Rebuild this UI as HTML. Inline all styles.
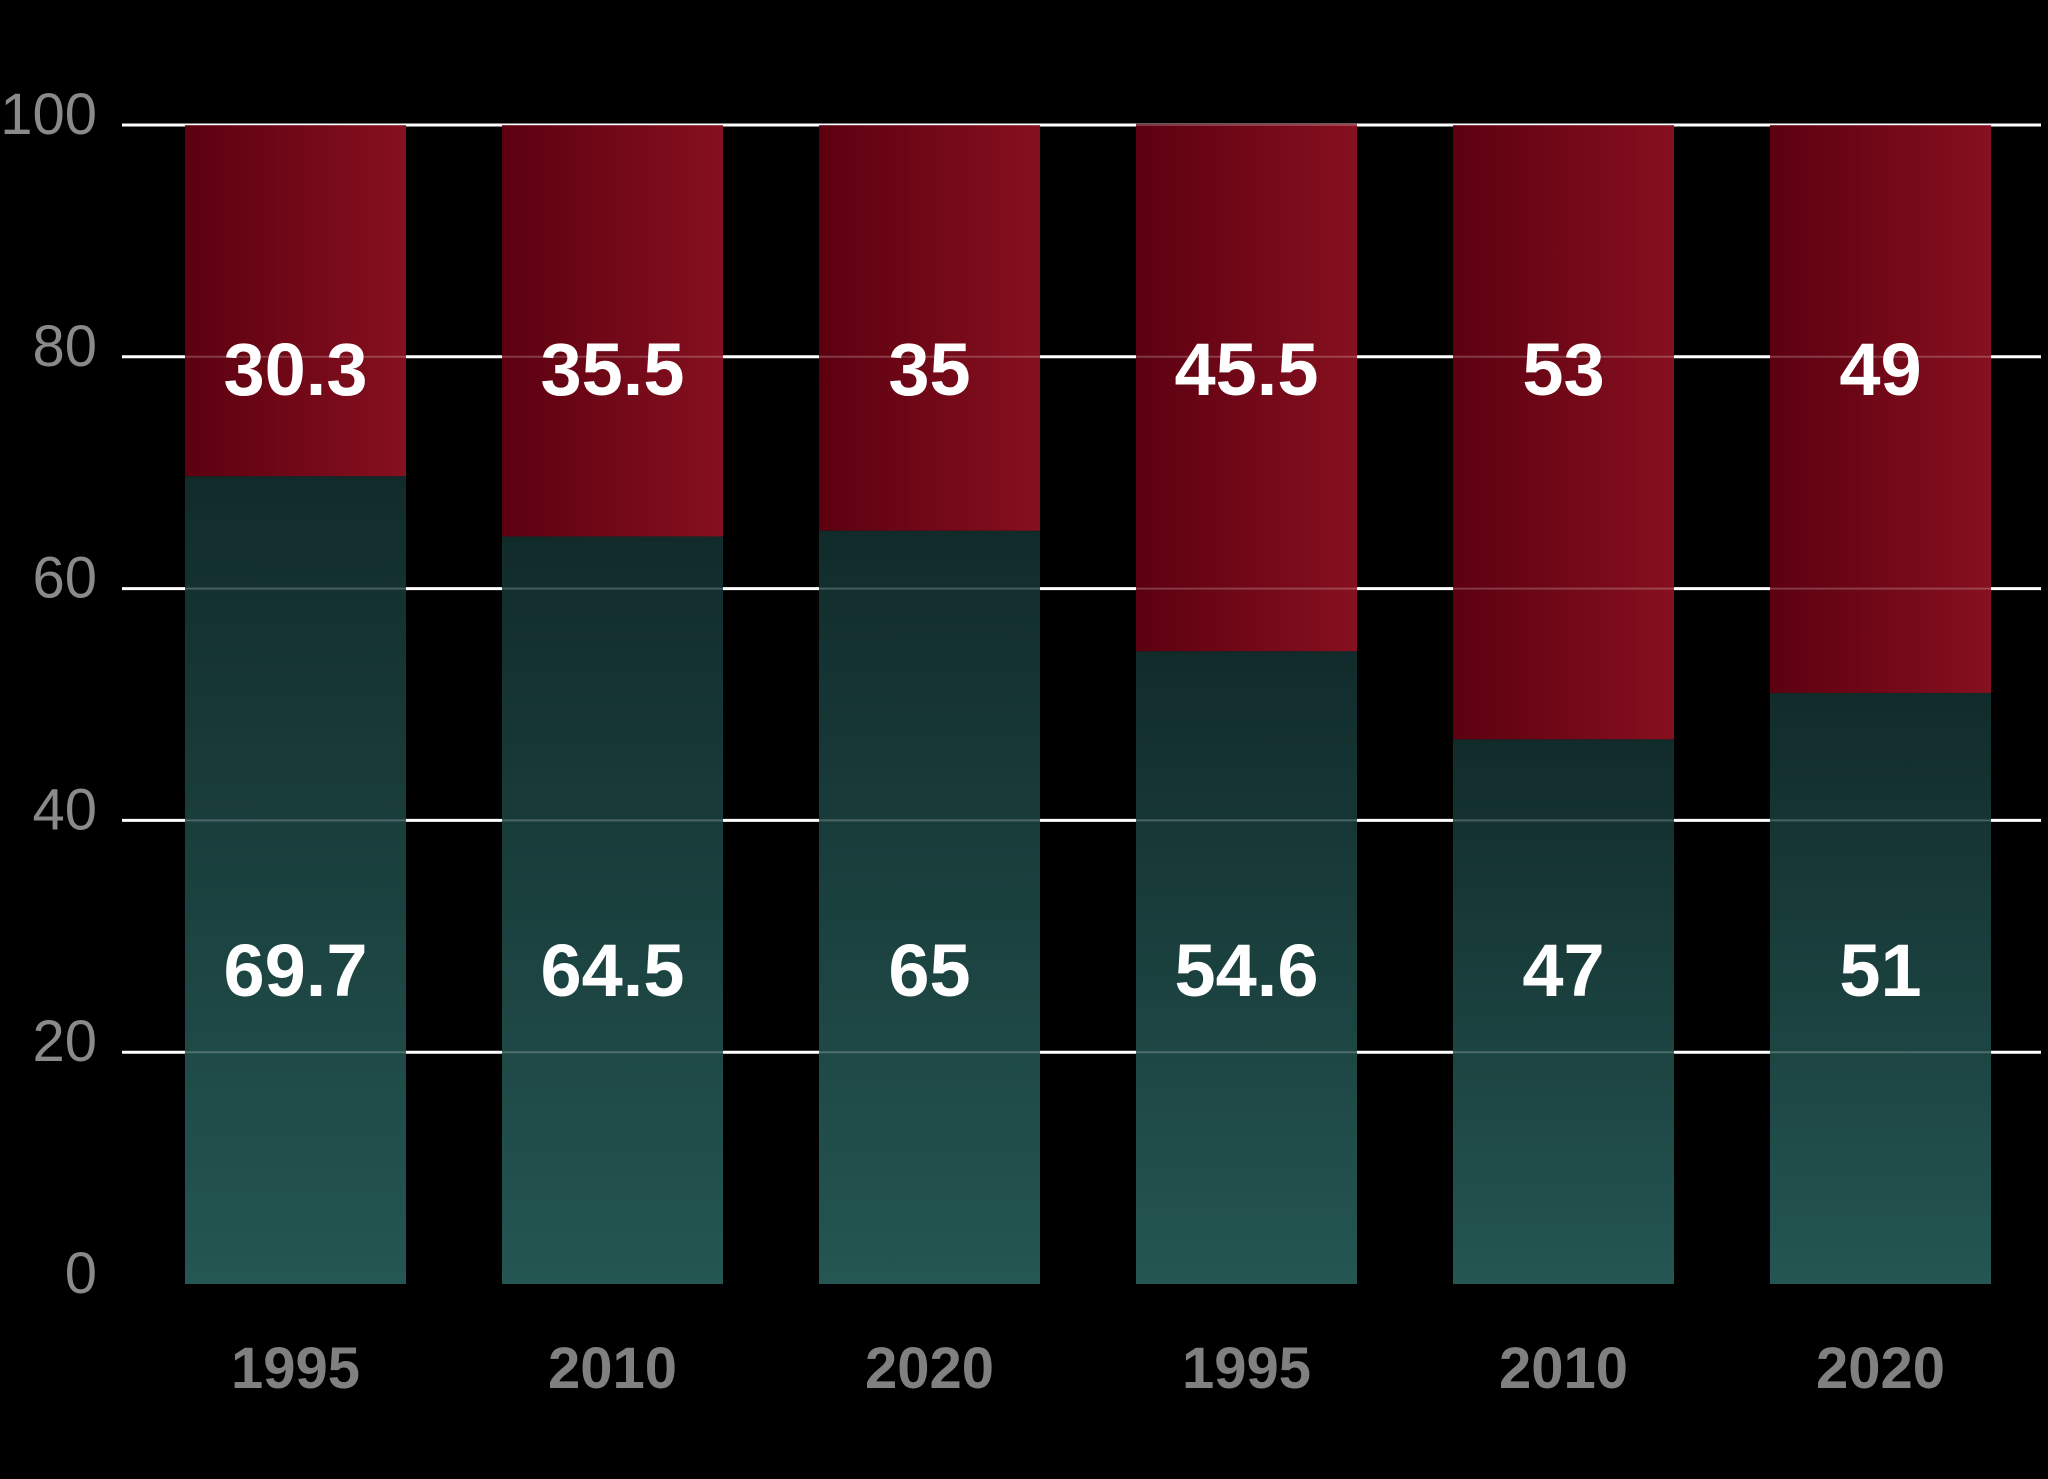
<!DOCTYPE html>
<html><head><meta charset="utf-8"><style>
html,body{margin:0;padding:0;background:#000;}
svg{display:block;font-family:"Liberation Sans","DejaVu Sans",sans-serif;}
</style></head><body>
<svg id="chart" width="2048" height="1479" viewBox="0 0 2048 1479" xmlns="http://www.w3.org/2000/svg">
<defs>
<linearGradient id="redGrad" x1="0" y1="0" x2="1" y2="0"><stop offset="0" stop-color="#5c0010"/><stop offset="1" stop-color="#86101f"/></linearGradient>
<linearGradient id="greenGrad" x1="0" y1="0" x2="0" y2="1"><stop offset="0" stop-color="#112b2b"/><stop offset="1" stop-color="#245652"/></linearGradient>
</defs>
<g id="grid"></g>
<g id="bars"></g>
<g id="overgrid"></g>
<g id="labels"></g>
<g id="yaxis"></g>
<g id="xaxis"></g>
</svg>
<script>
const categories = ["1995","2010","2020","1995","2010","2020"];
const greenValues = [69.7,64.5,65,54.6,47,51];
const redValues = [30.3,35.5,35,45.5,53,49];
const greenLabels = ["69.7","64.5","65","54.6","47","51"];
const redLabels = ["30.3","35.5","35","45.5","53","49"];
const yTicks = [0,20,40,60,80,100];

const NS="http://www.w3.org/2000/svg";
const y0=1284, y100=125;
function y(v){return y0-(y0-y100)*v/100;}
function xc(i){return 295.5+i*317;}
const bw=221;
function mk(tag,attrs,parent){const e=document.createElementNS(NS,tag);for(const k in attrs)e.setAttribute(k,attrs[k]);parent.appendChild(e);return e;}
const grid=document.getElementById('grid'),bars=document.getElementById('bars'),og=document.getElementById('overgrid'),labels=document.getElementById('labels'),ya=document.getElementById('yaxis'),xa=document.getElementById('xaxis');
yTicks.forEach(t=>{
  if(t>0){
    const l=mk('line',{x1:122,x2:2041,y1:y(t),y2:y(t),stroke:'#fff','stroke-width':3},grid);
    
    
    const o=mk('line',{x1:122,x2:2041,y1:y(t),y2:y(t),stroke:'#fff','stroke-width':2,'stroke-opacity':0.22},og);
    
    
  }
  const tx=mk('text',{x:97,y:y(t)-12+21,'text-anchor':'end','font-size':58,fill:'#8a8a8a'},ya);
  tx.textContent=t;
  
  
});
categories.forEach((c,i)=>{
  const x=xc(i)-bw/2;
  const g=greenValues[i], r=redValues[i];
  const gb=mk('rect',{x:x,y:y(g),width:bw,height:y(0)-y(g),fill:'url(#greenGrad)'},bars);
  
  
  const rb=mk('rect',{x:x,y:y(g+r),width:bw,height:y(g)-y(g+r),fill:'url(#redGrad)'},bars);
  
  
  const rl=mk('text',{x:xc(i),y:395,'text-anchor':'middle','font-size':74,'font-weight':'bold',fill:'#fff'},labels);
  rl.textContent=redLabels[i];
  
  
  const gl=mk('text',{x:xc(i),y:996,'text-anchor':'middle','font-size':74,'font-weight':'bold',fill:'#fff'},labels);
  gl.textContent=greenLabels[i];
  
  
  const xl=mk('text',{x:xc(i),y:1388,'text-anchor':'middle','font-size':58,'font-weight':'bold',fill:'#808080'},xa);
  xl.textContent=c;
  
  
});
</script>
</body></html>
